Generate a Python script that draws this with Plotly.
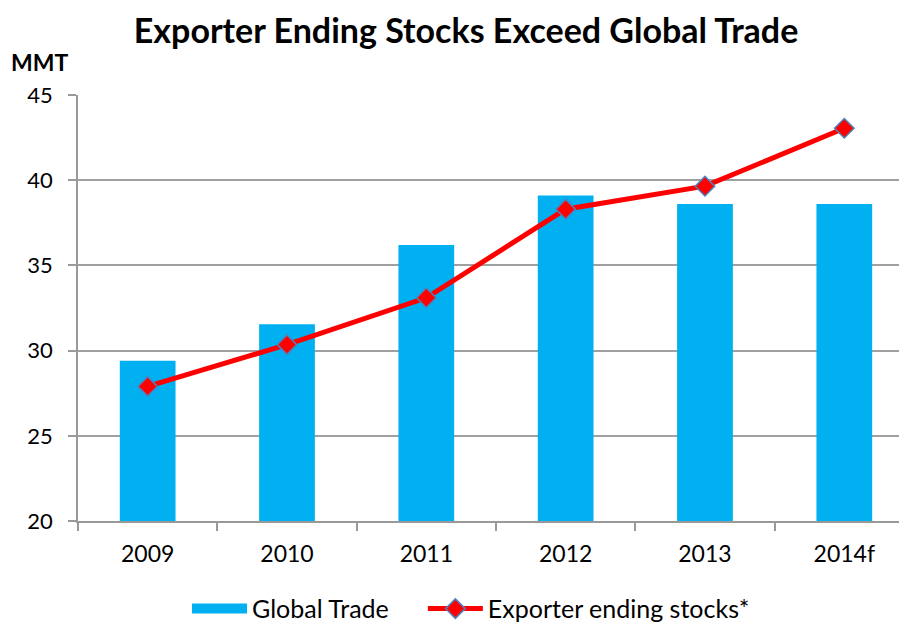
import plotly.graph_objects as go

years = ["2009", "2010", "2011", "2012", "2013", "2014f"]
global_trade = [29.4, 31.55, 36.2, 39.1, 38.6, 38.6]
exporter_stocks = [27.9, 30.35, 33.1, 38.3, 39.65, 43.05]

FONT = "Lato"
BLUE = "#00B0F0"

fig = go.Figure()
fig.add_trace(go.Bar(
    x=years, y=global_trade, name="Global Trade",
    marker=dict(color=BLUE, line=dict(width=0)),
    width=0.4, showlegend=False,
))
# legend entry for the bars drawn as a wide block
fig.add_trace(go.Scatter(
    x=[None], y=[None], name="Global Trade", mode="lines",
    line=dict(color=BLUE, width=16), showlegend=True, legend="legend",
))
fig.add_trace(go.Scatter(
    x=years, y=exporter_stocks, name="Exporter ending stocks*",
    mode="lines+markers", legend="legend2",
    line=dict(color="#FF0000", width=5),
    marker=dict(symbol="diamond", size=15, color="#FF0000",
                line=dict(color="#4F81BD", width=1.5)),
))

leg_common = dict(orientation="h", xanchor="left", yref="container",
                  y=0.034, yanchor="middle",
                  font=dict(size=25, family=FONT), itemwidth=55,
                  bgcolor="rgba(0,0,0,0)")

fig.update_layout(
    width=907, height=622,
    margin=dict(l=70, r=8, t=87, b=109),
    paper_bgcolor="white", plot_bgcolor="white",
    font=dict(family=FONT, color="black"),
    title=dict(text="<b>Exporter Ending Stocks Exceed Global Trade</b>",
               x=0.505, xanchor="center", y=0.963, yanchor="middle",
               font=dict(size=34, family=FONT, color="black")),
    showlegend=True,
    legend=dict(x=0.1315, **leg_common),
    legend2=dict(x=0.416, **leg_common),
)

fig.update_xaxes(
    type="category", range=[-0.5, 5.45],
    showline=True, linecolor="#999999", linewidth=1.5,
    ticks="outside", tickson="boundaries", ticklen=8, tickcolor="#999999", tickwidth=1.5,
    tickfont=dict(size=23, family=FONT), showgrid=False, ticklabelstandoff=12,
)
fig.update_yaxes(
    range=[20, 45], dtick=5,
    showline=True, linecolor="#999999", linewidth=1.5,
    ticks="outside", ticklen=8, tickcolor="#999999", tickwidth=1.5,
    showgrid=True, gridcolor="#A0A0A0", gridwidth=1.5,
    tickfont=dict(size=22, family=FONT), zeroline=False, ticklabelstandoff=11,
)

fig.add_annotation(text="<b>MMT</b>", xref="paper", yref="paper",
                   x=-0.083, y=1.078, xanchor="left", yanchor="middle",
                   showarrow=False, font=dict(size=23, family=FONT, color="black"))

fig.write_html("out.html")
